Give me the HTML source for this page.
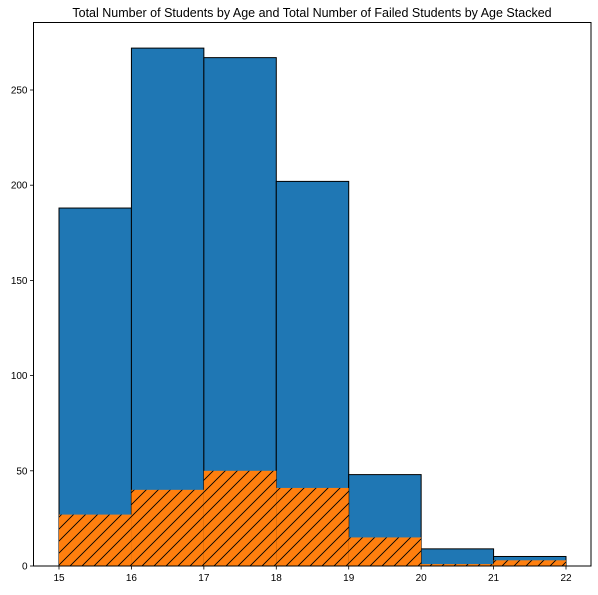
<!DOCTYPE html>
<html><head><meta charset="utf-8"><style>
body{margin:0;background:#fff;}
svg text{font-family:"Liberation Sans","DejaVu Sans",sans-serif;}
</style></head><body>
<svg id="chart" width="598" height="590" xmlns="http://www.w3.org/2000/svg">
<defs>
<pattern id="hatch" patternUnits="userSpaceOnUse" width="12" height="12">
<rect width="12" height="12" fill="#ff7f0e"/>
<path d="M-3,3 L3,-3 M0,12 L12,0 M9,15 L15,9" stroke="#000" stroke-width="0.9"/>
</pattern>
</defs>
<text x="312" y="17" text-anchor="middle" font-size="12.5" fill="#000">Total Number of Students by Age and Total Number of Failed Students by Age Stacked</text>
<g id="bars"></g>
<g id="axes"></g>
</svg>
<script>
const ageBins = [15,16,17,18,19,20,21,22];
const totalCounts = [188,272,267,202,48,9,5];
const failedCounts = [27,40,50,41,15,1,3];
const yTicks = [0,50,100,150,200,250];
const xTicks = [15,16,17,18,19,20,21,22];

const L=33.5,R=591,T=22.5,B=566;
const xs=v=>59+(v-15)*(566-59)/7;
const ys=v=>B-v*1.904;
const NS="http://www.w3.org/2000/svg";
function mk(tag,attrs,parent){const e=document.createElementNS(NS,tag);for(const k in attrs)e.setAttribute(k,attrs[k]);parent.appendChild(e);return e;}
const bars=document.getElementById('bars'),axes=document.getElementById('axes');
for(let i=0;i<totalCounts.length;i++){
  const x0=xs(ageBins[i]),x1=xs(ageBins[i+1]);
  const r=mk('rect',{x:x0,y:ys(totalCounts[i]),width:x1-x0,height:B-ys(totalCounts[i]),fill:'#1f77b4',stroke:'#000','stroke-width':1},bars);
  
  
}
for(let i=0;i<failedCounts.length;i++){
  const x0=xs(ageBins[i]),x1=xs(ageBins[i+1]);
  const r=mk('rect',{x:x0,y:ys(failedCounts[i]),width:x1-x0,height:B-ys(failedCounts[i]),fill:'url(#hatch)',stroke:'none'},bars);
  
  
}
const frame=mk('rect',{x:L,y:T,width:R-L,height:B-T,fill:'none',stroke:'#000','stroke-width':1},axes);


yTicks.forEach(v=>{
  const y=ys(v);
  mk('line',{x1:L-3.5,x2:L,y1:y,y2:y,stroke:'#000','stroke-width':0.8},axes);
  const t=mk('text',{x:L-6,y:y+3.5,'text-anchor':'end','font-size':10,fill:'#000'},axes);
  t.textContent=v;
  
  
});
xTicks.forEach(v=>{
  const x=xs(v);
  mk('line',{x1:x,x2:x,y1:B,y2:B+3.5,stroke:'#000','stroke-width':0.8},axes);
  const t=mk('text',{x:x,y:B+15,'text-anchor':'middle','font-size':10,fill:'#000'},axes);
  t.textContent=v;
  
  
});
</script>
</body></html>
